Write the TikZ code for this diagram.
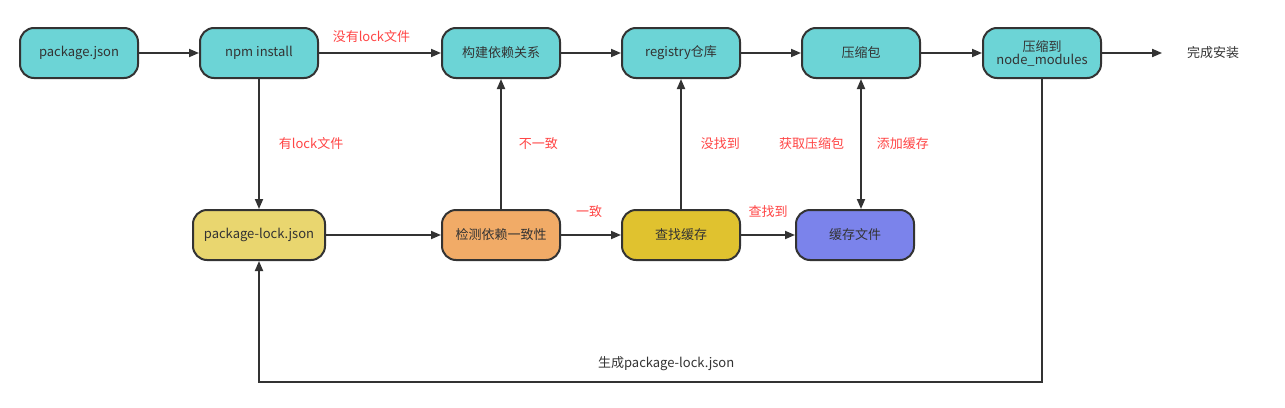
\documentclass[tikz,border=0pt]{standalone}
\usepackage{fontspec}
\setmainfont{Noto Sans CJK SC}
\usepackage{xcolor}
\usepackage{tikz}
\usetikzlibrary{
  arrows.meta,
  positioning
}
\definecolor{cyanbox}{HTML}{6CD4D6}
\definecolor{lockbox}{HTML}{E9D66F}
\definecolor{checkbox}{HTML}{F1AB67}
\definecolor{findbox}{HTML}{E0C22F}
\definecolor{filebox}{HTML}{7B83EB}
\definecolor{linegray}{HTML}{333333}
\definecolor{labelred}{HTML}{FF4545}

\begin{document}
\begin{tikzpicture}[x=1pt,y=-1pt,
  every node/.style={font=\fontsize{13}{16}\selectfont,text=linegray},
  box/.style={rectangle,rounded corners=14pt,draw=linegray,line width=2pt,
    minimum width=118pt,minimum height=50pt,align=center},
  lbl/.style={text=labelred,inner sep=0pt},
  every path/.style={draw=linegray,line width=1.8pt},
  >={Triangle[length=10pt,width=8pt]}]
  \fill[white,draw=none] (0,0) rectangle (1285,407);
  \node[box,fill=cyanbox] (0) at (79,53) {package.json};
  \node[box,fill=cyanbox] (1) at (259,53) {npm install};
  \node[box,fill=cyanbox] (2) at (501,53) {构建依赖关系};
  \node[box,fill=cyanbox] (3) at (681,53) {registry仓库};
  \node[box,fill=cyanbox] (4) at (861,53) {压缩包};
  \node[box,fill=cyanbox] (5) at (1042,53) {压缩到\\[-3pt]node\_modules};
  \node[minimum width=100pt] (6) at (1213,53) {完成安装};
  \node[box,fill=lockbox,minimum width=132pt] (7) at (259,235) {package-lock.json};
  \node[box,fill=checkbox] (8) at (501,235) {检测依赖一致性};
  \node[box,fill=findbox] (9) at (681,235) {查找缓存};
  \node[box,fill=filebox] (10) at (855,235) {缓存文件};
  \coordinate (11) at (1042,382);
  \draw[->] (0) -- (1);
  \draw[->] (1) -- node[lbl,pos=0.43,above=10pt] {没有lock文件} (2);
  \draw[->] (2) -- (3);
  \draw[->] (3) -- (4);
  \draw[->] (4) -- (5);
  \draw[->] (5) -- (6);
  \draw[->] (1) -- node[lbl,right=19pt] {有lock文件} (7);
  \draw[->] (7) -- (8);
  \draw[->] (8) -- node[lbl,right=17pt] {不一致} (2);
  \draw[->] (8) -- node[lbl,pos=0.47,above=17pt] {一致} (9);
  \draw[->] (9) -- node[lbl,right=19pt] {没找到} (3);
  \draw[->] (9) -- node[lbl,above=17pt] {查找到} (10);
  \draw[<->] (4) -- node[lbl,left=16pt] {获取压缩包} node[lbl,right=15pt] {添加缓存} (4 |- 10.north);
  \draw[->] (5) -- (11) -| node[pos=0.24,above=10pt,inner sep=0pt] {生成package-lock.json} (7);
\end{tikzpicture}
\end{document}
